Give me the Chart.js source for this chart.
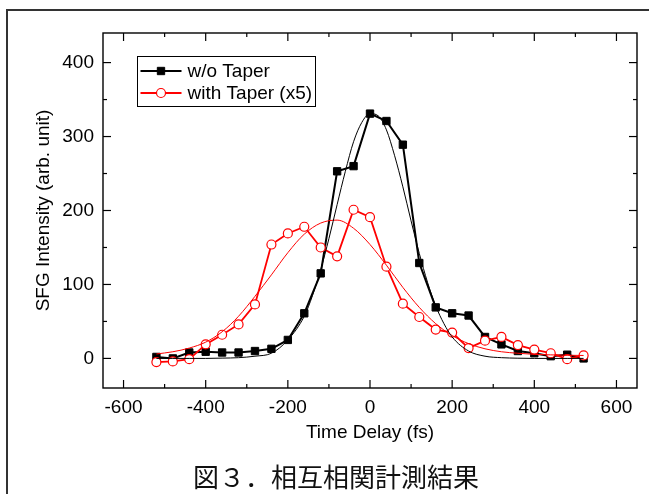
<!DOCTYPE html>
<html>
<head>
<meta charset="utf-8">
<script src="https://cdn.jsdelivr.net/npm/chart.js@4.4.0/dist/chart.umd.min.js"></script>
<style>
  html, body { margin: 0; padding: 0; background: #fff; }
  #wrap { position: relative; width: 649px; height: 494px; overflow: hidden; }
  #frame { position: absolute; left: 6px; top: 9px; width: 800px; height: 800px;
           border-left: 2px solid #333; border-top: 2px solid #333; }
  canvas { position: absolute; left: 0; top: 0; }
  #caption { position: absolute; left: 0; width: 672px; top: 459px; text-align: center;
             font: 26px "Noto Sans CJK JP"; line-height: 34px; color: #111; white-space: nowrap; }
</style>
</head>
<body>
<div id="wrap">
  <div id="frame"></div>
  <canvas id="chart" width="649" height="494"></canvas>
  <div id="caption">図３．相互相関計測結果</div>
</div>
<script>
// measured points, time delay in fs
const delays = [-520, -480, -440, -400, -360, -320, -280, -240, -200, -160, -120, -80, -40,
                0, 40, 80, 120, 160, 200, 240, 280, 320, 360, 400, 440, 480, 520];
const withoutTaper = [2, 0, 8, 9, 8, 8, 10, 13, 25, 61, 115, 253, 260,
                      331, 321, 289, 129, 69, 61, 58, 29, 19, 10, 7, 3, 5, 0];
const withTaper = [-5, -4, -1, 19, 32, 46, 73, 154, 169, 178, 150, 138, 201,
                   191, 124, 74, 56, 39, 35, 14, 24, 29, 18, 12, 7, -1, 4];

// gaussian fit curves
const fitDelaysBlack = [-520, -480, -440, -400, -360, -320, -280, -240, -200, -160, -140, -120, -100, -80, -60, -40, -20,
                        0, 20, 40, 60, 80, 100, 120, 140, 160, 180, 200, 240, 280, 320, 360, 400, 440, 480, 520];
const fitWithout = [0, 0, 0, 0, 0.4, 1, 3, 7, 25, 57, 85, 120, 162, 208, 253, 293, 319,
                    331, 328, 309, 274, 232, 186, 142, 103, 71, 47, 29, 10, 3, 1, 0.3, 0, 0, 0, 0];
const fitDelaysRed = [-520, -480, -440, -400, -360, -320, -280, -240, -200, -160, -120, -80, -40,
                      0, 40, 80, 120, 160, 200, 240, 280, 320, 360, 400, 440, 480, 520];
const fitWith = [6, 9, 14, 22, 36, 57, 84, 113, 143, 168, 183, 187, 176,
                 154, 126, 96, 69, 47, 31, 20, 13, 9, 7, 5.5, 4.8, 4.3, 4];

const xTickValues = [-600, -400, -200, 0, 200, 400, 600];
const xMinorValues = [-500, -300, -100, 100, 300, 500];
const yTickValues = [0, 100, 200, 300, 400];
const yMinorValues = [50, 150, 250, 350];

const seriesLabels = ['w/o Taper', 'with Taper (x5)'];

const FONT = '"Liberation Sans", Arial, sans-serif';
const pts = (xs, ys) => xs.map((x, i) => ({ x: x, y: ys[i] }));

const blackPoint = { pointStyle: 'rect', radius: 5.2, borderWidth: 1, backgroundColor: '#000', borderColor: '#000', rotation: 0 };
const redPoint = { pointStyle: 'circle', radius: 4.5, borderWidth: 1.2, backgroundColor: '#fff', borderColor: '#ff0000', rotation: 0 };

// inward ticks, axis box and the boxed legend
const decorations = {
    id: 'decorations',
    afterDraw(chart) {
        const ctx = chart.ctx;
        const xs = chart.scales.x, ys = chart.scales.y;
        const { left, right, top, bottom } = chart.chartArea;

        ctx.save();
        ctx.strokeStyle = '#000';
        ctx.lineWidth = 1.4;
        ctx.strokeRect(left, top, right - left, bottom - top);

        const seg = (x1, y1, x2, y2) => { ctx.beginPath(); ctx.moveTo(x1, y1); ctx.lineTo(x2, y2); ctx.stroke(); };
        ctx.lineWidth = 1.2;
        xTickValues.forEach(v => { const p = xs.getPixelForValue(v); seg(p, bottom, p, bottom - 8); seg(p, top, p, top + 8); });
        xMinorValues.forEach(v => { const p = xs.getPixelForValue(v); seg(p, bottom, p, bottom - 4); seg(p, top, p, top + 4); });
        yTickValues.forEach(v => { const p = ys.getPixelForValue(v); seg(left, p, left + 8, p); seg(right, p, right - 8, p); });
        yMinorValues.forEach(v => { const p = ys.getPixelForValue(v); seg(left, p, left + 4, p); seg(right, p, right - 4, p); });

        // legend
        const lx = 137.5, ly = 56.5, lw = 178, lh = 50;
        ctx.lineWidth = 1;
        ctx.strokeRect(lx, ly, lw, lh);
        const rows = [
            { y: 71, color: '#000', width: 2, point: blackPoint },
            { y: 93, color: '#ff0000', width: 1.8, point: redPoint }
        ];
        ctx.font = '19px ' + FONT;
        ctx.textBaseline = 'middle';
        ctx.fillStyle = '#000';
        rows.forEach((r, i) => {
            ctx.strokeStyle = r.color;
            ctx.lineWidth = r.width;
            seg(lx + 3, r.y, lx + 44, r.y);
            ctx.lineWidth = r.point.borderWidth;
            ctx.fillStyle = r.point.backgroundColor;
            ctx.strokeStyle = r.point.borderColor;
            Chart.helpers.drawPoint(ctx, r.point, lx + 23.5, r.y);
            ctx.fillStyle = '#000';
            ctx.fillText(seriesLabels[i], lx + 50, r.y + 1);
        });
        ctx.restore();
    }
};

new Chart(document.getElementById('chart'), {
    type: 'line',
    data: {
        datasets: [
            {
                label: 'fit w/o',
                data: pts(fitDelaysBlack, fitWithout),
                borderColor: '#000', borderWidth: 1, pointRadius: 0,
                cubicInterpolationMode: 'monotone'
            },
            {
                label: 'fit with',
                data: pts(fitDelaysRed, fitWith),
                borderColor: '#ff0000', borderWidth: 1, pointRadius: 0,
                cubicInterpolationMode: 'monotone'
            },
            {
                label: seriesLabels[1],
                data: pts(delays, withTaper),
                borderColor: '#ff0000', borderWidth: 1.8,
                pointStyle: 'circle', pointRadius: redPoint.radius, pointBorderWidth: 1.2,
                pointBackgroundColor: '#fff', pointBorderColor: '#ff0000'
            },
            {
                label: seriesLabels[0],
                data: pts(delays, withoutTaper),
                borderColor: '#000', borderWidth: 2,
                pointStyle: 'rect', pointRadius: blackPoint.radius, pointBorderWidth: 1,
                pointBackgroundColor: '#000', pointBorderColor: '#000'
            }
        ]
    },
    options: {
        responsive: false,
        animation: false,
        devicePixelRatio: 1,
        layout: { padding: { top: 33, right: 12, left: 0, bottom: 0 } },
        plugins: { legend: { display: false }, tooltip: { enabled: false } },
        scales: {
            x: {
                type: 'linear', min: -650, max: 650,
                afterBuildTicks: s => { s.ticks = xTickValues.map(v => ({ value: v })); },
                afterFit: s => { s.height = 106; },
                grid: { display: false, drawTicks: false },
                border: { display: false },
                ticks: { color: '#000', font: { size: 19, family: FONT }, padding: 8, maxRotation: 0, autoSkip: false },
                title: { display: true, text: 'Time Delay (fs)', color: '#000',
                         font: { size: 19, family: FONT }, padding: { top: 0, bottom: 50 } }
            },
            y: {
                type: 'linear', min: -40, max: 440,
                afterBuildTicks: s => { s.ticks = yTickValues.map(v => ({ value: v })); },
                afterFit: s => { s.width = 103; },
                grid: { display: false, drawTicks: false },
                border: { display: false },
                ticks: { color: '#000', font: { size: 19, family: FONT }, padding: 9 },
                title: { display: true, text: 'SFG Intensity (arb. unit)', color: '#000',
                         font: { size: 19, family: FONT }, padding: { top: 32, bottom: 0 } }
            }
        }
    },
    plugins: [decorations]
});
</script>
</body>
</html>
